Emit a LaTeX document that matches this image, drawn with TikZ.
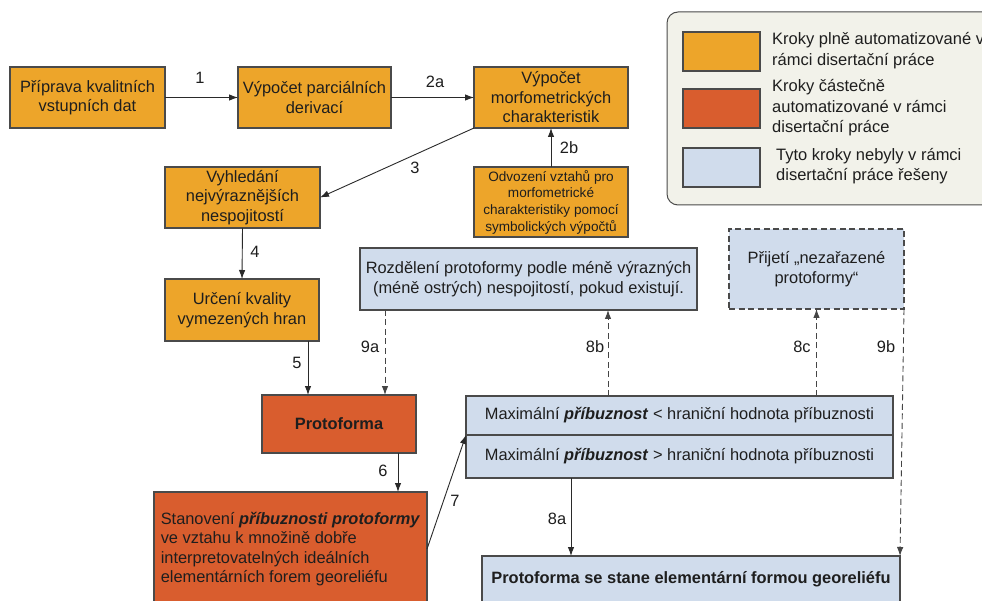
\documentclass[tikz,border=0pt]{standalone}
\usepackage{fontspec}
\setmainfont{Liberation Sans}
\usetikzlibrary{arrows.meta}
\definecolor{orng}{HTML}{EDA52A}
\definecolor{rdor}{HTML}{D95D2E}
\definecolor{lblue}{HTML}{D0DCEC}
\definecolor{bordc}{HTML}{4A4A4A}
\definecolor{txtc}{HTML}{1E1E1E}
\definecolor{legbg}{HTML}{F2F2EA}
\definecolor{linec}{HTML}{2A2A2A}
\definecolor{dashc}{HTML}{454545}
\begin{document}
\begin{tikzpicture}[x=1pt,y=-1pt,
  box/.style={draw=bordc, line width=1.1pt, inner sep=3pt, outer sep=0pt, align=center,
    font=\fontsize{16.4}{19.5}\selectfont, text=txtc},
  obox/.style={box, fill=orng},
  rbox/.style={box, fill=rdor},
  bbox/.style={box, fill=lblue},
  sz/.style n args={2}{minimum width=#1, minimum height=#2},
  arr/.style={draw=linec, line width=0.9pt, -{Latex[length=9pt,width=6.5pt]}},
  darr/.style={draw=dashc, line width=0.9pt, dash pattern=on 6pt off 3.5pt, -{Latex[length=9pt,width=6.5pt]}},
  lbl/.style={font=\fontsize{16.4}{19.5}\selectfont, text=txtc, inner sep=1pt},
  legtxt/.style={anchor=west, align=left, inner sep=0pt, font=\fontsize{16.5}{20.5}\selectfont, text=txtc}
]
\clip (0,0) rectangle (982,601);
\fill[white] (0,0) rectangle (982,601);

% legend
\draw[draw=bordc, line width=1pt, fill=legbg, rounded corners=11pt] (667,12) rectangle (1010,205);
\node[obox, sz={77}{39}] (L1) at (721.5,51.5) {};
\node[rbox, sz={77}{39}] (L2) at (721.5,108.5) {};
\node[bbox, sz={77}{39}] (L3) at (721.5,167.5) {};
\node[legtxt] (T1) at (772,50.5) {Kroky plně automatizované v\\rámci disertační práce};
\node[legtxt] (T2) at (772,108) {Kroky částečně\\automatizované v rámci\\disertační práce};
\node[legtxt] (T3) at (776,166) {Tyto kroky nebyly v rámci\\disertační práce řešeny};

% boxes
\node[obox, sz={155}{61}] (A) at (87.5,97.5) {Příprava kvalitních\\vstupních dat};
\node[obox, sz={153}{61}] (B) at (314.5,97.5) {Výpočet parciálních\\derivací};
\node[obox, sz={154}{61}] (C) at (551,97.5) {Výpočet\\morfometrických\\charakteristik};
\node[obox, sz={154}{70}, font=\fontsize{13.6}{16.7}\selectfont] (O) at (551,202) {Odvození vztahů pro\\morfometrické\\charakteristiky pomocí\\symbolických výpočtů};
\node[obox, sz={155}{61}] (D) at (242.5,197.5) {Vyhledání\\nejvýraznějších\\nespojitostí};
\node[obox, sz={154}{62}] (E) at (242,310) {Určení kvality\\vymezených hran};
\node[rbox, sz={154}{58}, font=\fontsize{16.4}{19.5}\selectfont\bfseries] (F) at (339,424) {Protoforma};
\node[rbox, sz={273}{114}, align=left, inner sep=4pt] (G) at (290.5,549) {Stanovení \textbf{\textit{příbuznosti protoformy}}\\ve vztahu k množině dobře\\interpretovatelných ideálních\\elementárních forem georeliéfu};
\node[bbox, sz={337}{62}] (H) at (528.5,279) {Rozdělení protoformy podle méně výrazných\\(méně ostrých) nespojitostí, pokud existují.};
\node[bbox, sz={175}{80}, dash pattern=on 6pt off 3.5pt] (I) at (816.5,269) {Přijetí „nezařazené\\protoformy“};
\node[bbox, sz={427}{39}] (J1) at (679.5,415.5) {Maximální \textbf{\textit{příbuznost}} < hraniční hodnota příbuznosti};
\node[bbox, sz={427}{43}] (J2) at (679.5,456.5) {Maximální \textbf{\textit{příbuznost}} > hraniční hodnota příbuznosti};
\node[bbox, sz={418}{46}, font=\fontsize{16.4}{19.5}\selectfont\bfseries] (K) at (691,579) {Protoforma se stane elementární formou georeliéfu};

% connectors
\draw[arr] (A.east) -- (B.west);
\draw[arr] (B.east) -- (C.west);
\draw[arr] (O.north) -- (C.south);
\draw[arr] (C.south west) -- (D.east);
\draw[arr] (D.south) -- (E.north);
\draw[arr] ([xshift=66]E.south) -- ([xshift=66]E.south |- F.north);
\draw[darr] ([xshift=-143.5]H.south) -- ([xshift=-143.5]H.south |- F.north);
\draw[darr] ([xshift=-71.5]J1.north) -- ([xshift=-71.5]J1.north |- H.south);
\draw[darr] (I.south |- J1.north) -- (I.south);
\draw[darr] (I.south east) -- (K.north east);
\draw[arr] ([xshift=59]F.south) -- ([xshift=59]F.south |- G.north);
\draw[arr] (G.east) -- (J1.south west);
\draw[arr] ([xshift=-108.5]J2.south) -- ([xshift=-108.5]J2.south |- K.north);

% labels
\node[lbl] (n1) at (200,78) {1};
\node[lbl] (n2a) at (435,82) {2a};
\node[lbl] (n2b) at (569,148) {2b};
\node[lbl] (n3) at (415,168) {3};
\node[lbl] (n4) at (255,252) {4};
\node[lbl] (n5) at (297,363) {5};
\node[lbl] (n9a) at (370,347) {9a};
\node[lbl] (n8b) at (595,347) {8b};
\node[lbl] (n8c) at (802,347) {8c};
\node[lbl] (n9b) at (886,347) {9b};
\node[lbl] (n6) at (383,471) {6};
\node[lbl] (n7) at (455,501) {7};
\node[lbl] (n8a) at (557,519) {8a};
\end{tikzpicture}
\end{document}
